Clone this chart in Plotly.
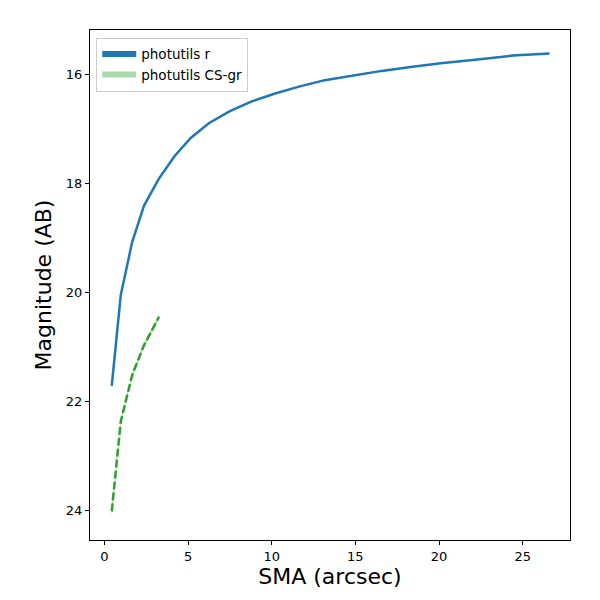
import plotly.graph_objects as go

# Data
sma_r = [0.44, 0.98, 1.66, 2.37, 3.25, 4.2, 5.16, 6.24, 7.5, 8.81, 10.25, 11.74,
         13.18, 14.85, 16.58, 18.3, 20.1, 22.3, 24.4, 26.6]
mag_r = [21.72, 20.05, 19.08, 18.41, 17.92, 17.50, 17.17, 16.90, 16.68, 16.50,
         16.35, 16.22, 16.11, 16.02, 15.94, 15.87, 15.80, 15.73, 15.66, 15.62]
err_r = [0.03, 0.02, 0.02, 0.02, 0.015, 0.015, 0.01, 0.01, 0.01, 0.01,
         0.01, 0.01, 0.01, 0.01, 0.01, 0.01, 0.01, 0.01, 0.01, 0.01]

sma_g = [0.44, 0.98, 1.66, 2.37, 3.27]
mag_g = [24.02, 22.37, 21.52, 20.97, 20.45]
err_g = [0.1, 0.05, 0.04, 0.04, 0.04]

x_ticks = [0, 5, 10, 15, 20, 25]
y_ticks = [16, 18, 20, 22, 24]

BLUE = "#1f77b4"
GREEN = "#2ca02c"


def band(x, y, e):
    xs = list(x) + list(x)[::-1]
    ys = [a - b for a, b in zip(y, e)] + [a + b for a, b in zip(y, e)][::-1]
    return xs, ys


fig = go.Figure()

bx, by = band(sma_r, mag_r, err_r)
fig.add_trace(go.Scatter(x=bx, y=by, fill="toself", fillcolor=BLUE,
                         line=dict(width=0), mode="none", name="photutils r",
                         hoverinfo="skip"))
fig.add_trace(go.Scatter(x=sma_r, y=mag_r, mode="lines",
                         line=dict(color=BLUE, width=2.5), showlegend=False))

gx, gy = band(sma_g, mag_g, err_g)
fig.add_trace(go.Scatter(x=gx, y=gy, fill="toself",
                         fillcolor="rgba(44,160,44,0.4)",
                         line=dict(width=0), mode="none",
                         name="photutils CS-gr", hoverinfo="skip"))
fig.add_trace(go.Scatter(x=sma_g, y=mag_g, mode="lines",
                         line=dict(color=GREEN, width=2.5, dash="8px,3px"),
                         showlegend=False))

axis_common = dict(showgrid=False, zeroline=False, showline=True,
                   linecolor="black", linewidth=1, mirror=True,
                   ticks="outside", ticklen=4, tickwidth=1, tickcolor="black",
                   automargin=False,
                   tickfont=dict(family="DejaVu Sans", size=13, color="black"))

fig.update_xaxes(range=[-0.86, 27.83], tickvals=x_ticks,
                 title=dict(text="SMA (arcsec)",
                            font=dict(family="DejaVu Sans", size=22, color="black"),
                            standoff=6),
                 **axis_common)
fig.update_yaxes(range=[24.545, 15.19], tickvals=y_ticks,
                 title=dict(text="Magnitude (AB)",
                            font=dict(family="DejaVu Sans", size=22, color="black"),
                            standoff=8),
                 **axis_common)

fig.update_layout(
    width=600, height=600,
    margin=dict(l=82, r=38, t=22, b=68),
    paper_bgcolor="white", plot_bgcolor="white",
    font=dict(family="DejaVu Sans", color="black"),
    legend=dict(x=0.013, y=0.985, xanchor="left", yanchor="top",
                bgcolor="rgba(255,255,255,0.8)", bordercolor="#cccccc",
                borderwidth=1, font=dict(family="DejaVu Sans", size=13.5),
                tracegroupgap=0, itemwidth=34),
    showlegend=True,
)

fig.write_html("out.html")
